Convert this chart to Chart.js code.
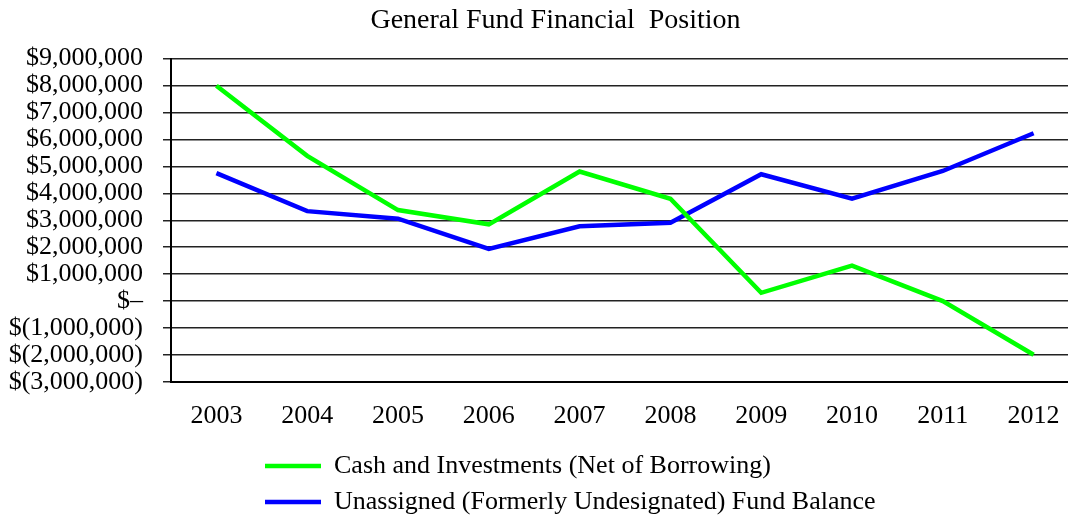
<!DOCTYPE html>
<html>
<head>
<meta charset="utf-8">
<title>General Fund Financial Position</title>
<script src="https://cdn.jsdelivr.net/npm/chart.js@4.4.1/dist/chart.umd.min.js"></script>
<style>
  html, body { margin: 0; padding: 0; background: #fff; overflow: hidden; }
  #wrap { width: 1084px; height: 525px; }
</style>
</head>
<body>
<div id="wrap"><canvas id="chart" width="1084" height="525"></canvas></div>
<script>
// data
const years = ['2003', '2004', '2005', '2006', '2007', '2008', '2009', '2010', '2011', '2012'];
const cashNet = [7990000, 5390000, 3380000, 2850000, 4810000, 3800000, 310000, 1320000, 0, -1990000];
const unassigned = [4750000, 3340000, 3060000, 1940000, 2780000, 2910000, 4710000, 3800000, 4830000, 6230000];
const seriesNames = ['Cash and Investments (Net of Borrowing)', 'Unassigned (Formerly Undesignated) Fund Balance'];
const yMin = -3000000, yMax = 9000000, yStep = 1000000;

const serif = 'Liberation Serif, Times New Roman, serif';

// accounting style: $1,000,000 / $– / $(1,000,000)
function money(v) {
  if (v === 0) return '$\u2013';
  const s = Math.abs(v).toLocaleString('en-US');
  return v < 0 ? '$(' + s + ')' : '$' + s;
}

// legend rows start at one left edge, title sits a bit right of centre (as in the original)
const LEGEND_X = 265;
const TITLE_SHIFT = 32;
const placeBoxes = {
  id: 'placeBoxes',
  afterUpdate(chart) {
    const lg = chart.legend;
    if (lg) lg.left = LEGEND_X - lg.options.labels.padding;
    const tb = chart.titleBlock;
    if (tb) tb.left += TITLE_SHIFT;
  }
};

new Chart(document.getElementById('chart'), {
  type: 'line',
  data: {
    labels: years,
    datasets: [
      { label: seriesNames[0], data: cashNet, borderColor: '#00ff00', backgroundColor: '#00ff00',
        borderWidth: 4.5, pointRadius: 0, tension: 0 },
      { label: seriesNames[1], data: unassigned, borderColor: '#0000ff', backgroundColor: '#0000ff',
        borderWidth: 4.5, pointRadius: 0, tension: 0 }
    ]
  },
  options: {
    responsive: false,
    animation: false,
    layout: { padding: { left: 0, right: 5, top: 0, bottom: 0 } },
    plugins: {
      title: {
        display: true,
        text: 'General Fund Financial  Position',
        color: '#000',
        font: { family: serif, size: 28, weight: 'normal' },
        padding: { top: 4, bottom: 21 }
      },
      legend: {
        position: 'bottom',
        align: 'start',
        labels: {
          color: '#000',
          font: { family: serif, size: 26 },
          usePointStyle: true,
          pointStyle: 'line',
          pointStyleWidth: 56,
          padding: 10
        }
      },
      tooltip: { enabled: false }
    },
    scales: {
      x: {
        offset: true,
        grid: { display: false },
        border: { color: '#000', width: 2 },
        ticks: { color: '#000', font: { family: serif, size: 26 }, padding: 11 },
        afterFit(s) { s.height = 61; }
      },
      y: {
        min: yMin,
        max: yMax,
        grid: { color: '#222', lineWidth: 1.5, tickLength: 8 },
        border: { color: '#000', width: 2 },
        ticks: {
          stepSize: yStep,
          autoSkip: false,
          padding: 20,
          color: '#000',
          font: { family: serif, size: 26, lineHeight: 1 },
          callback: v => money(v)
        },
        afterFit(s) { s.width = 171; }
      }
    }
  },
  plugins: [placeBoxes]
});
</script>
</body>
</html>
